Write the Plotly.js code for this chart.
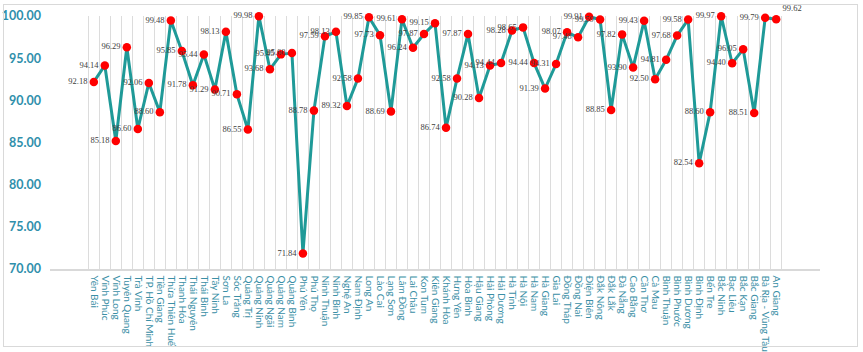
<!DOCTYPE html>
<html>
<head>
<meta charset="utf-8">
<script src="https://cdn.plot.ly/plotly-3.0.1.min.js"></script>
<style>
  html, body { margin: 0; padding: 0; background: #ffffff; }
  #wrap { position: relative; width: 863px; height: 352px; }
  #chart { position: absolute; left: 0; top: 0; width: 863px; height: 352px; }
  #frame { position: absolute; left: 3px; top: 4px; width: 853px; height: 341px; border: 1px solid #d9d9d9; pointer-events: none; }
</style>
</head>
<body>
<div id="wrap"><div id="chart"></div><div id="frame"></div></div>
<script>
const provinces = [
  "Yên Bái", "Vĩnh Phúc", "Vĩnh Long", "Tuyên Quang", "Trà Vinh", "TP. Hồ Chí Minh",
  "Tiền Giang", "Thừa Thiên Huế", "Thanh Hóa", "Thái Nguyên", "Thái Bình", "Tây Ninh",
  "Sơn La", "Sóc Trăng", "Quảng Trị", "Quảng Ninh", "Quảng Ngãi", "Quảng Nam",
  "Quảng Bình", "Phú Yên", "Phú Thọ", "Ninh Thuận", "Ninh Bình", "Nghệ An",
  "Nam Định", "Long An", "Lào Cai", "Lạng Sơn", "Lâm Đồng", "Lai Châu",
  "Kon Tum", "Kiên Giang", "Khánh Hòa", "Hưng Yên", "Hòa Bình", "Hậu Giang",
  "Hải Phòng", "Hải Dương", "Hà Tĩnh", "Hà Nội", "Hà Nam", "Hà Giang",
  "Gia Lai", "Đồng Tháp", "Đồng Nai", "Điện Biên", "Đắk Nông", "Đắk Lắk",
  "Đà Nẵng", "Cao Bằng", "Cần Thơ", "Cà Mau", "Bình Thuận", "Bình Phước",
  "Bình Dương", "Bình Định", "Bến Tre", "Bắc Ninh", "Bạc Liêu", "Bắc Kạn",
  "Bắc Giang", "Bà Rịa - Vũng Tàu", "An Giang"
];
const values = [
  92.18, 94.14, 85.18, 96.29, 86.60, 92.06,
  88.60, 99.48, 95.85, 91.78, 95.44, 91.29,
  98.13, 90.71, 86.55, 99.98, 93.68, 95.45,
  95.60, 71.84, 88.78, 97.59, 98.13, 89.32,
  92.58, 99.85, 97.73, 88.69, 99.61, 96.24,
  97.87, 99.15, 86.74, 92.58, 97.87, 90.28,
  94.13, 94.44, 98.28, 98.65, 94.44, 91.39,
  94.31, 98.07, 97.48, 99.91, 99.59, 88.85,
  97.82, 93.90, 99.43, 92.50, 94.81, 97.68,
  99.58, 82.54, 88.60, 99.97, 94.40, 96.05,
  88.51, 99.79, 99.62
];
const yTicks = [70, 75, 80, 85, 90, 95, 100];

const labelPos = provinces.map(p => p === "An Giang" ? "top right" : "middle left");

const trace = {
  type: "scatter",
  mode: "lines+markers+text",
  x: provinces,
  y: values,
  text: values.map(v => v.toFixed(2)),
  textposition: labelPos,
  textfont: { family: "Liberation Serif, Times New Roman, serif", size: 8.5, color: "#404040" },
  line: { color: "#1f9a98", width: 3 },
  marker: { color: "#ff0000", size: 8.5 },
  cliponaxis: false,
  hoverinfo: "x+y"
};

const layout = {
  width: 863,
  height: 352,
  margin: { l: 49.5, r: 43, t: 16, b: 83 },
  paper_bgcolor: "rgba(0,0,0,0)",
  plot_bgcolor: "rgba(0,0,0,0)",
  showlegend: false,
  xaxis: {
    type: "category",
    tickmode: "array",
    tickvals: provinces,
    ticktext: provinces,
    tickson: "boundaries",
    showgrid: true,
    gridcolor: "#dcdcdc",
    gridwidth: 1.5,
    showline: true,
    linecolor: "#d9d9d9",
    linewidth: 1.5,
    ticks: "",
    tickangle: 90,
    tickfont: { family: "Lato, Open Sans, DejaVu Sans, sans-serif", size: 10, color: "#3a8fa6" },
    ticklabelstandoff: 3,
    zeroline: false,
    fixedrange: true
  },
  yaxis: {
    range: [70, 100],
    tickvals: yTicks,
    ticktext: yTicks.map(v => v.toFixed(2)),
    showgrid: false,
    zeroline: false,
    showline: false,
    ticks: "",
    ticklabelstandoff: 8,
    tickfont: { family: "Lato, Open Sans, DejaVu Sans, sans-serif", size: 12.5, color: "#2f8fab", weight: "bold" },
    fixedrange: true
  }
};

Plotly.newPlot("chart", [trace], layout, { displayModeBar: false, staticPlot: true });
</script>
</body>
</html>
